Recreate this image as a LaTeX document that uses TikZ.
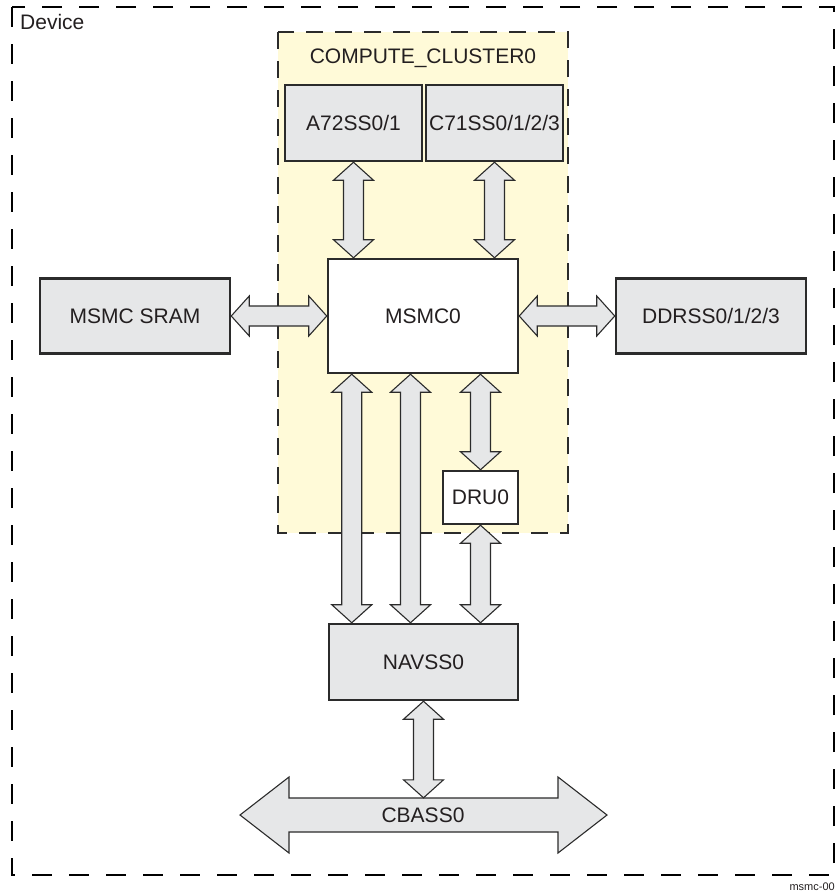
\documentclass[tikz,border=0pt]{standalone}
\usepackage{fontspec}
\setmainfont{Liberation Sans}
\usepackage{tikz}
\usetikzlibrary{calc,positioning}

\definecolor{boxgray}{HTML}{E6E7E8}
\definecolor{linegray}{HTML}{2B2B2B}
\definecolor{clusteryellow}{HTML}{FFFAD8}
\definecolor{textgray}{HTML}{231F20}

% fat double arrows between two anchors
\newcommand{\vlink}[2]{%
  \draw[link] let \p1=(#1), \p2=(#2) in
    (\x1,\y1) -- (\x1+20pt,\y1-18pt) -- (\x1+10pt,\y1-18pt)
    -- (\x1+10pt,\y2+18pt) -- (\x1+20pt,\y2+18pt) -- (\x1,\y2)
    -- (\x1-20pt,\y2+18pt) -- (\x1-10pt,\y2+18pt)
    -- (\x1-10pt,\y1-18pt) -- (\x1-20pt,\y1-18pt) -- cycle;}
\newcommand{\hlink}[2]{%
  \draw[link] let \p1=(#1), \p2=(#2) in
    (\x1,\y1) -- (\x1+18pt,\y1+20pt) -- (\x1+18pt,\y1+10pt)
    -- (\x2-18pt,\y1+10pt) -- (\x2-18pt,\y1+20pt) -- (\x2,\y1)
    -- (\x2-18pt,\y1-20pt) -- (\x2-18pt,\y1-10pt)
    -- (\x1+18pt,\y1-10pt) -- (\x1+18pt,\y1-20pt) -- cycle;}

\begin{document}
\begin{tikzpicture}[
  x=1pt, y=-1pt,
  font=\fontsize{21}{25}\selectfont, text=textgray,
  block/.style={draw=linegray, line width=2.5pt, fill=boxgray, inner sep=0pt},
  plain/.style={block, fill=white},
  link/.style={draw=linegray, line width=1.1pt, fill=boxgray, line join=miter},
  frame/.style={draw=black, line width=2.6pt, dash pattern=on 20pt off 17pt}
]
\useasboundingbox (0,0) rectangle (836,894);

% Device boundary
\draw[frame] (12,7) rectangle (834,875);
\node[anchor=base west, inner sep=0pt] (dev) at (20,29) {Device};

% Compute cluster
\draw[fill=clusteryellow, draw=linegray, line width=2.2pt, dash pattern=on 17pt off 12pt]
  (278,32) rectangle (568,533);
\node[anchor=base, inner sep=0pt] (CC) at (423,63) {COMPUTE\_CLUSTER0};

% Blocks
\node[block, minimum width=137pt, minimum height=76pt] (A72) at (353.5,123) {A72SS0/1};
\node[block, minimum width=137pt, minimum height=76pt] (C71) at (494.5,123) {C71SS0/1/2/3};
\node[plain, minimum width=190pt, minimum height=114pt] (MSMC) at (423,316) {MSMC0};
\node[block, minimum width=190pt, minimum height=75pt] (SRAM) at (135,316) {MSMC SRAM};
\node[block, minimum width=190pt, minimum height=75pt] (DDR) at (711,316) {DDRSS0/1/2/3};
\node[plain, minimum width=75pt, minimum height=53pt] (DRU) at (480.5,497.5) {DRU0};
\node[block, minimum width=189pt, minimum height=76pt] (NAV) at (423.5,662) {NAVSS0};

% CBASS bus
\draw[link] (240,815) -- (289,777) -- (289,798) -- (558,798) -- (558,777) -- (607,815)
  -- (558,853) -- (558,832) -- (289,832) -- (289,853) -- cycle;
\node[minimum height=34pt, inner sep=0pt] (CBASS) at (423,815) {CBASS0};

% Connections
\vlink{A72.south}{A72.south |- MSMC.north}
\vlink{C71.south}{C71.south |- MSMC.north}
\hlink{SRAM.east}{MSMC.west}
\hlink{MSMC.east}{DDR.west}
\coordinate (m1) at ($(MSMC.south west)!0.13!(MSMC.south east)$);
\coordinate (m2) at ($(MSMC.south west)!0.435!(MSMC.south east)$);
\vlink{m1}{m1 |- NAV.north}
\vlink{m2}{m2 |- NAV.north}
\vlink{DRU.north |- MSMC.south}{DRU.north}
\vlink{DRU.south}{DRU.south |- NAV.north}
\vlink{NAV.south}{CBASS.north}

\node[anchor=base east, inner sep=0pt, font=\fontsize{11}{13}\selectfont] (tag) at (835,890) {msmc-00};
\end{tikzpicture}
\end{document}
